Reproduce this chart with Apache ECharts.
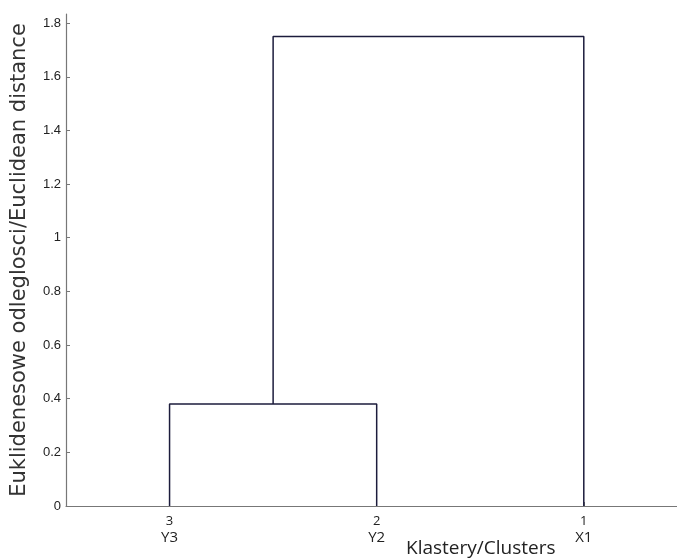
<!DOCTYPE html>
<html><head><meta charset="utf-8">
<script src="https://cdn.jsdelivr.net/npm/echarts@6/dist/echarts.min.js"></script>
<style>html,body{margin:0;padding:0;background:#fff}#c{width:677px;height:558px}</style>
</head><body><div id="c"></div>
<script>
// Leaves in plot order (positions 1..3)
var leafIds = ['3', '2', '1'];
var leafNames = ['Y3', 'Y2', 'X1'];
var leafPositions = [1, 2, 3];
// Merges: left node x, right node x, height (distance)
var mergeLeft = [1, 1.5];
var mergeRight = [2, 3];
var mergeHeight = [0.38, 1.75];
var mergeLeftBase = [0, 0.38];
var mergeRightBase = [0, 0];
var yTicks = [0, 0.2, 0.4, 0.6, 0.8, 1, 1.2, 1.4, 1.6, 1.8];

var series = [];
for (var i = 0; i < mergeHeight.length; i++) {
  series.push({
    type: 'line', symbol: 'none', animation: false,
    lineStyle: { color: '#1c1c3c', width: 1.5 },
    data: [[mergeLeft[i], mergeLeftBase[i]], [mergeLeft[i], mergeHeight[i]],
           [mergeRight[i], mergeHeight[i]], [mergeRight[i], mergeRightBase[i]]]
  });
}

var chart = echarts.init(document.getElementById('c'));
chart.setOption({
  animation: false,
  grid: { left: 66, top: 14, right: 0, bottom: 52, containLabel: false },
  title: {
    text: 'Klastery/Clusters', left: 401, top: 534,
    textStyle: { fontFamily: 'Open Sans', fontSize: 19, fontWeight: 'normal', color: '#222' }
  },
  xAxis: {
    type: 'value', min: 0.5, max: 3.45,
    axisLine: { lineStyle: { color: '#777', width: 1.2 } },
    splitLine: { show: false },
    axisTick: { inside: true, length: 4, customValues: leafPositions, lineStyle: { color: '#777' } },
    axisLabel: {
      customValues: leafPositions, margin: 7,
      formatter: function (v) {
        var k = leafPositions.indexOf(Math.round(v));
        return k < 0 ? '' : '{a|' + leafIds[k] + '}\n{b|' + leafNames[k] + '}';
      },
      rich: {
        a: { fontFamily: 'Open Sans', fontSize: 13, color: '#222', lineHeight: 16 },
        b: { fontFamily: 'Open Sans', fontSize: 15, color: '#222', lineHeight: 18 }
      }
    }
  },
  yAxis: {
    type: 'value', min: 0, max: 1.834,
    name: 'Euklidenesowe odleglosci/Euclidean distance',
    nameLocation: 'middle', nameGap: 36, nameRotate: 90,
    nameTextStyle: { fontFamily: 'DejaVu Sans', fontSize: 21, color: '#333' },
    axisLine: { show: true, lineStyle: { color: '#777', width: 1.2 } },
    splitLine: { show: false },
    axisTick: { show: true, inside: true, length: 4, customValues: yTicks, lineStyle: { color: '#777' } },
    axisLabel: {
      customValues: yTicks, margin: 5,
      fontFamily: 'Liberation Sans', fontSize: 13, color: '#222',
      formatter: function (v) { return String(Math.round(v * 10) / 10); }
    }
  },
  series: series
});
</script>
</body></html>
